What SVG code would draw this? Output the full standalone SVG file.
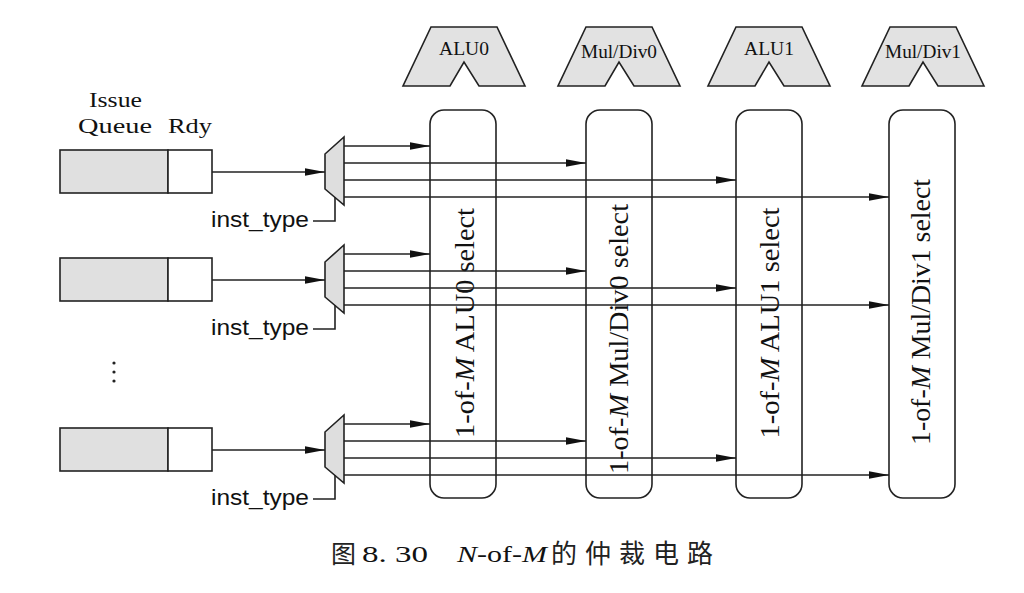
<svg xmlns="http://www.w3.org/2000/svg" width="1024" height="593" viewBox="0 0 1024 593">
<style>
.fu{fill:#e2e2e2;stroke:#222;stroke-width:1.6}
.sel{fill:#fff;stroke:#222;stroke-width:1.6}
.q{fill:#e0e0e0;stroke:#222;stroke-width:1.6}
.rdy{fill:#fff;stroke:#222;stroke-width:1.6}
.mux{fill:#dedede;stroke:#222;stroke-width:1.6}
.ln{fill:none;stroke:#222;stroke-width:1.6}
.ar{fill:none;stroke:#222;stroke-width:1.6;marker-end:url(#ah)}
.tm{font-family:"Liberation Serif","Times New Roman",serif;fill:#111}
.ss{font-family:"Liberation Sans",Arial,sans-serif;fill:#111}
.cj{font-family:"Noto Sans CJK SC",sans-serif;fill:#222}
</style>
<defs>
<marker id="ah" viewBox="0 0 20 8" refX="20" refY="4" markerWidth="20" markerHeight="8" markerUnits="userSpaceOnUse" orient="auto">
<path d="M0,0.2 L20,4 L0,7.8 Z" fill="#111"/>
</marker>
</defs>
<rect width="1024" height="593" fill="#fff"/>

<!-- Functional units -->
<g id="fu-alu0">
<polygon class="fu" points="431,27 497,27 525,86 479,86 464,62 450,86 403,86"/>
<text class="tm" x="464" y="55" font-size="18" text-anchor="middle" textLength="50" lengthAdjust="spacingAndGlyphs">ALU0</text>
</g>
<g id="fu-muldiv0">
<polygon class="fu" points="586,27 652,27 680,86 634,86 619,62 605,86 558,86"/>
<text class="tm" x="619" y="58" font-size="18" text-anchor="middle" textLength="76" lengthAdjust="spacingAndGlyphs">Mul/Div0</text>
</g>
<g id="fu-alu1">
<polygon class="fu" points="736,27 802,27 830,86 784,86 769,62 755,86 708,86"/>
<text class="tm" x="769" y="55" font-size="18" text-anchor="middle" textLength="50" lengthAdjust="spacingAndGlyphs">ALU1</text>
</g>
<g id="fu-muldiv1">
<polygon class="fu" points="890,27 956,27 984,86 938,86 923,62 909,86 862,86"/>
<text class="tm" x="923" y="58" font-size="18" text-anchor="middle" textLength="76" lengthAdjust="spacingAndGlyphs">Mul/Div1</text>
</g>

<!-- Select blocks -->
<g id="sel-alu0">
<rect class="sel" x="430" y="110" width="66" height="388" rx="14"/>
<text class="tm" font-size="27" text-anchor="middle" transform="translate(474,323) rotate(-90)" textLength="230" lengthAdjust="spacingAndGlyphs">1-of-<tspan font-style="italic">M</tspan> ALU0 select</text>
</g>
<g id="sel-muldiv0">
<rect class="sel" x="586" y="110" width="66" height="388" rx="14"/>
<text class="tm" font-size="27" text-anchor="middle" transform="translate(628,339) rotate(-90)" textLength="270" lengthAdjust="spacingAndGlyphs">1-of-<tspan font-style="italic">M</tspan> Mul/Div0 select</text>
</g>
<g id="sel-alu1">
<rect class="sel" x="736" y="110" width="66" height="388" rx="14"/>
<text class="tm" font-size="27" text-anchor="middle" transform="translate(779,323) rotate(-90)" textLength="231" lengthAdjust="spacingAndGlyphs">1-of-<tspan font-style="italic">M</tspan> ALU1 select</text>
</g>
<g id="sel-muldiv1">
<rect class="sel" x="889" y="110" width="66" height="388" rx="14"/>
<text class="tm" font-size="27" text-anchor="middle" transform="translate(930,312) rotate(-90)" textLength="266" lengthAdjust="spacingAndGlyphs">1-of-<tspan font-style="italic">M</tspan> Mul/Div1 select</text>
</g>

<!-- Issue queue header -->
<g id="iq-header">
<text class="tm" x="89" y="107" font-size="22" textLength="53" lengthAdjust="spacingAndGlyphs">Issue</text>
<text class="tm" x="78" y="133" font-size="22" textLength="74" lengthAdjust="spacingAndGlyphs">Queue</text>
<text class="tm" x="168" y="133" font-size="22" textLength="44" lengthAdjust="spacingAndGlyphs">Rdy</text>
</g>

<!-- Issue queue entries -->
<g id="entry1">
<rect class="q" x="60" y="150" width="108" height="43"/>
<rect class="rdy" x="168" y="150" width="44" height="43"/>
</g>
<g id="entry2">
<rect class="q" x="60" y="258" width="108" height="43"/>
<rect class="rdy" x="168" y="258" width="44" height="43"/>
</g>
<g id="ellipsis">
<circle cx="114" cy="363" r="1.6" fill="#222"/>
<circle cx="114" cy="372" r="1.6" fill="#222"/>
<circle cx="114" cy="381" r="1.6" fill="#222"/>
</g>
<g id="entry3">
<rect class="q" x="60" y="428" width="108" height="43"/>
<rect class="rdy" x="168" y="428" width="44" height="43"/>
</g>

<!-- Muxes -->
<g id="mux1">
<polygon class="mux" points="325,154 344,137 344,205 325,189"/>
<text class="ss" x="309" y="227" font-size="22" text-anchor="end" textLength="98" lengthAdjust="spacingAndGlyphs">inst_type</text>
</g>
<g id="mux2">
<polygon class="mux" points="325,262 344,245 344,313 325,297"/>
<text class="ss" x="309" y="335" font-size="22" text-anchor="end" textLength="98" lengthAdjust="spacingAndGlyphs">inst_type</text>
</g>
<g id="mux3">
<polygon class="mux" points="325,432 344,415 344,483 325,467"/>
<text class="ss" x="309" y="505" font-size="22" text-anchor="end" textLength="98" lengthAdjust="spacingAndGlyphs">inst_type</text>
</g>

<!-- Connectors -->
<g id="connectors">
<path class="ar" d="M212,172 L325,172"/>
<path class="ar" d="M344,146 L430,146"/>
<path class="ar" d="M344,163 L586,163"/>
<path class="ar" d="M344,180 L736,180"/>
<path class="ar" d="M344,197 L889,197"/>
<path class="ln" d="M313,221 L335,221 L335,197"/>

<path class="ar" d="M212,280 L325,280"/>
<path class="ar" d="M344,254 L430,254"/>
<path class="ar" d="M344,271 L586,271"/>
<path class="ar" d="M344,288 L736,288"/>
<path class="ar" d="M344,305 L889,305"/>
<path class="ln" d="M313,329 L335,329 L335,305"/>

<path class="ar" d="M212,450 L325,450"/>
<path class="ar" d="M344,424 L430,424"/>
<path class="ar" d="M344,441 L586,441"/>
<path class="ar" d="M344,458 L736,458"/>
<path class="ar" d="M344,475 L889,475"/>
<path class="ln" d="M313,499 L335,499 L335,475"/>
</g>

<!-- Caption -->
<g id="caption">
<text class="cj" x="331" y="563" font-size="25">图</text>
<text class="tm" x="362" y="562" font-size="23" textLength="66" lengthAdjust="spacingAndGlyphs">8. 30</text>
<text class="tm" x="457" y="562" font-size="24" textLength="90" lengthAdjust="spacingAndGlyphs"><tspan font-style="italic">N</tspan>-of-<tspan font-style="italic">M</tspan></text>
<text class="cj" x="551" y="563" font-size="26" letter-spacing="8">的仲裁电路</text>
</g>
</svg>
